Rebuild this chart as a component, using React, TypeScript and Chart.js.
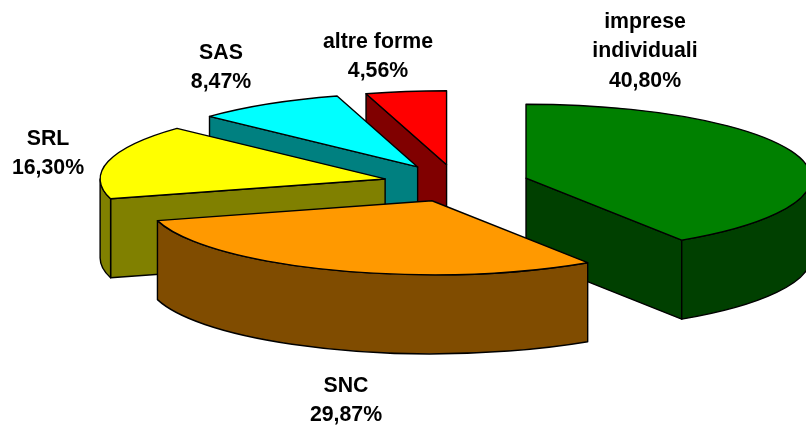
import React, { useEffect, useRef } from "react";
import { Chart, registerables } from "chart.js";

Chart.register(...registerables);

const categories = ["imprese individuali", "SNC", "SRL", "SAS", "altre forme"];
const shares = [40.8, 29.87, 16.3, 8.47, 4.56];
const shareLabels = ["40,80%", "29,87%", "16,30%", "8,47%", "4,56%"];
const labelLines = [["imprese", "individuali"], ["SNC"], ["SRL"], ["SAS"], ["altre forme"]];
const topColors = ["#008000", "#FF9900", "#FFFF00", "#00FFFF", "#FF0000"];
const sideColors = ["#004000", "#804C00", "#808000", "#008080", "#800000"];
const explode = [72, 71, 74, 75, 73];
const paintOrder = [0, 4, 3, 2, 1];

const SQUASH = 0.2596;
const DEPTH = 79;
const RADIUS = 285;
const labelAnchors = [
  [645, 22],
  [346, 386],
  [48, 139],
  [221, 53],
  [378, 42],
];
const LINE_GAP = 29.6;

const pie3d = {
  id: "pie3d",
  beforeDatasetsDraw(chart: any) {
    const ctx: CanvasRenderingContext2D = chart.ctx;
    const arcs = chart.getDatasetMeta(0).data;
    ctx.save();
    ctx.lineWidth = 1.4;
    ctx.strokeStyle = "#000";
    ctx.lineJoin = "round";
    for (const i of paintOrder) {
      const el = arcs[i];
      const { x, y, startAngle: a0, endAngle: a1, outerRadius: r } = el.getProps(
        ["x", "y", "startAngle", "endAngle", "outerRadius"],
        true
      );
      const mid = (a0 + a1) / 2;
      const off = el.options.offset;
      const ax = x + Math.cos(mid) * off;
      const ay = y + Math.sin(mid) * off * SQUASH;
      const ry = r * SQUASH;
      const rim = (t: number): [number, number] => [
        ax + Math.cos(t) * r,
        ay + Math.sin(t) * ry,
      ];
      const paint = (fill: string) => {
        ctx.closePath();
        ctx.fillStyle = fill;
        ctx.fill();
        ctx.stroke();
      };
      const face = (t: number) => {
        const [px, py] = rim(t);
        ctx.beginPath();
        ctx.moveTo(ax, ay);
        ctx.lineTo(px, py);
        ctx.lineTo(px, py + DEPTH);
        ctx.lineTo(ax, ay + DEPTH);
        paint(sideColors[i]);
      };
      if (Math.cos(a0) < -1e-6) face(a0);
      if (Math.cos(a1) > 1e-6) face(a1);
      const w0 = Math.max(a0, 0);
      const w1 = Math.min(a1, Math.PI);
      if (w0 < w1) {
        ctx.beginPath();
        ctx.ellipse(ax, ay, r, ry, 0, w0, w1, false);
        ctx.ellipse(ax, ay + DEPTH, r, ry, 0, w1, w0, true);
        paint(sideColors[i]);
      }
      ctx.beginPath();
      ctx.moveTo(ax, ay);
      ctx.ellipse(ax, ay, r, ry, 0, a0, a1, false);
      paint(el.options.backgroundColor);
    }
    ctx.fillStyle = "#000";
    ctx.font = 'bold 21.3px "Liberation Sans", Arial, sans-serif';
    ctx.textAlign = "center";
    ctx.textBaseline = "middle";
    categories.forEach((_, i) => {
      const [lx, ly] = labelAnchors[i];
      const lines = [...labelLines[i], shareLabels[i]];
      lines.forEach((line, n) => ctx.fillText(line, lx, ly + n * LINE_GAP));
    });
    ctx.restore();
    return false;
  },
};

export default function App() {
  const ref = useRef<HTMLCanvasElement>(null);
  useEffect(() => {
    const chart = new Chart(ref.current as HTMLCanvasElement, {
      type: "pie",
      data: {
        labels: categories,
        datasets: [
          {
            data: shares,
            backgroundColor: topColors,
            offset: explode,
            borderColor: "#000",
            borderWidth: 1,
            radius: RADIUS,
          } as any,
        ],
      },
      options: {
        responsive: false,
        animation: false,
        radius: RADIUS,
        layout: { padding: { left: 108, bottom: 60 } },
        plugins: { legend: { display: false }, tooltip: { enabled: false } },
      } as any,
      plugins: [pie3d],
    });
    return () => chart.destroy();
  }, []);
  return (
    <div style={{ position: "fixed", left: 0, top: 0, width: 806, height: 427, background: "#fff" }}>
      <canvas ref={ref} width={806} height={427} style={{ display: "block" }} />
    </div>
  );
}
